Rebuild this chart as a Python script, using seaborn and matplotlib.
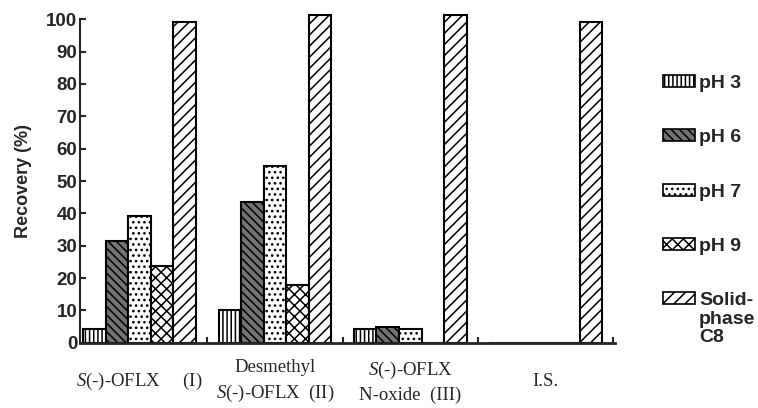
import pandas as pd
import matplotlib
matplotlib.use("Agg")
import matplotlib.pyplot as plt
import seaborn as sns
from matplotlib.patches import Patch

# --- DATA ---
compounds = ["$S$(-)-OFLX     (I)",
             "Desmethyl\n$S$(-)-OFLX  (II)",
             "$S$(-)-OFLX\nN-oxide  (III)",
             "I.S."]
methods = ["pH 3", "pH 6", "pH 7", "pH 9", "Solid-\nphase\nC8"]
ph3 = [4.2, 10.2, 4.2, 0]
ph6 = [31.5, 43.5, 4.8, 0]
ph7 = [39.2, 54.5, 4.3, 0]
ph9 = [23.8, 18.0, 0, 0]
solid_c8 = [99.3, 101.3, 101.3, 99.2]
y_ticks = list(range(0, 101, 10))

# --- STYLE ---
sns.set_style("ticks")
plt.rcParams["font.family"] = ["Liberation Sans", "DejaVu Sans"]
plt.rcParams["mathtext.fontset"] = "custom"
plt.rcParams["mathtext.rm"] = "Liberation Serif"
plt.rcParams["mathtext.it"] = "Liberation Serif:italic"
plt.rcParams["hatch.linewidth"] = 1.1

hatches = ["||||", "\\\\\\\\", "...", "xxx", "///"]
faces = ["white", "0.45", "white", "white", "white"]

rows = []
for m, vals in zip(methods, [ph3, ph6, ph7, ph9, solid_c8]):
    for c, v in zip(compounds, vals):
        rows.append({"compound": c, "method": m, "recovery": v})
df = pd.DataFrame(rows)

fig = plt.figure(figsize=(7.58, 4.08), dpi=100)
ax = fig.add_axes([0.1055, 0.160, 0.7055, 0.7927])

sns.barplot(data=df, x="compound", y="recovery", hue="method",
            order=compounds, hue_order=methods, width=5 / 6,
            palette=["white"] * 5, edgecolor="black", linewidth=1.5,
            saturation=1, legend=False, ax=ax)

for cont, h, fc in zip(ax.containers, hatches, faces):
    for bar in cont:
        bar.set_hatch(h)
        bar.set_facecolor(fc)
        bar.set_clip_on(False)

ax.set_xlim(-0.44, 3.51)
ax.set_ylim(0, 100)
ax.set_yticks(y_ticks)
ax.set_xlabel("")
ax.set_ylabel("Recovery (%)", fontsize=13, fontweight="bold", labelpad=10)

sns.despine(ax=ax)
ax.spines["left"].set_linewidth(1.5)
ax.spines["bottom"].set_linewidth(2)
ax.tick_params(axis="y", direction="in", length=4, width=1.5,
               labelsize=13.5, pad=2)
for lbl in ax.get_yticklabels():
    lbl.set_fontweight("bold")

ax.set_xticks([0.5, 1.5, 2.5, 3.5], minor=True)
ax.tick_params(axis="x", which="minor", direction="in", length=4, width=1.5)
ax.tick_params(axis="x", which="major", length=0, pad=28, labelsize=13.5)
for lbl in ax.get_xticklabels():
    lbl.set_verticalalignment("center")
    lbl.set_fontfamily("Liberation Serif")
    lbl.set_linespacing(1.45)

handles = [Patch(facecolor=fc, edgecolor="black", hatch=h, linewidth=1.2)
           for h, fc in zip(hatches, faces)]
leg = fig.legend(handles, methods, loc="upper left",
                 bbox_to_anchor=(0.862, 0.84), frameon=False,
                 handlelength=1.65, handleheight=0.58, handletextpad=0.2,
                 labelspacing=1.92, borderpad=0,
                 prop={"weight": "bold", "size": 14})
for txt in leg.get_texts():
    txt.set_linespacing(1.12)
# put the patch next to the first line of multi-line labels
for col in leg._legend_handle_box.get_children():
    for item in col.get_children():
        item.align = "top"

fig.savefig("out.png", dpi=100)
